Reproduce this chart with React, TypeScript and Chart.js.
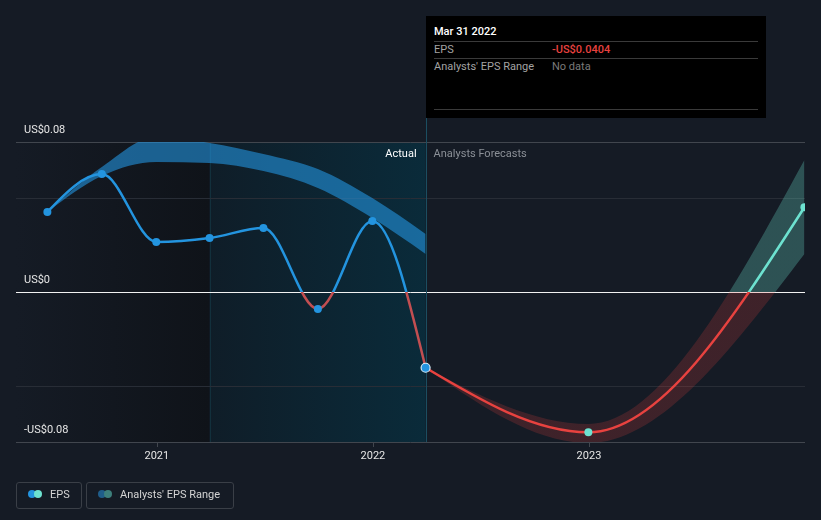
import React, { useEffect, useRef } from 'react';
import { Chart, registerables } from 'chart.js';

Chart.register(...registerables);

const FONT = 'Roboto, "Noto Sans", "DejaVu Sans", sans-serif';

// ---------- data ----------
const actualDates = ['2020-06-30', '2020-09-30', '2020-12-31', '2021-03-31', '2021-06-30', '2021-09-30', '2021-12-31', '2022-03-31'];
const actualEps = [0.0427, 0.0629, 0.0267, 0.0288, 0.0341, -0.009, 0.0379, -0.0404];
const pastRangeLow = [0.0427, 0.0619, 0.0693, 0.0688, 0.0645, 0.0555, 0.0395, 0.0203];
const pastRangeHigh = [0.0427, 0.0667, 0.0827, 0.0795, 0.0736, 0.0656, 0.0501, 0.0309];

const forecastDates = ['2022-03-31', '2022-12-31', '2023-12-31'];
const forecastEps = [-0.0404, -0.0748, 0.0452];
const forecastLow = [-0.0404, -0.0805, 0.0203];
const forecastHigh = [-0.0404, -0.0704, 0.0704];

const yGridValues = [-0.08, -0.05, 0, 0.05, 0.08];
const yLabelValues = [0.08, 0, -0.08];
const yLabelTexts = ['US$0.08', 'US$0', '-US$0.08'];
const xTickDates = ['2021-01-01', '2022-01-01', '2023-01-01'];
const xTickLabels = ['2021', '2022', '2023'];

const xRange = ['2020-05-08', '2024-01-01'];
const yRange = [-0.08, 0.08];
const highlightStart = '2021-03-31';
const lastActualDate = '2022-03-31';

const tooltipTitle = 'Mar 31 2022';
const tooltipEps = '-US$0.0404';
const tooltipRange = 'No data';

// ---------- helpers ----------
const toMs = (d: string) => {
  const [y, m, dd] = d.split('-').map(Number);
  return Date.UTC(y, m - 1, dd);
};
const pts = (dates: string[], vals: number[]) => dates.map((d, i) => ({ x: toMs(d), y: vals[i] }));

function zeroGradient(chart: any, above: string, below: string) {
  const { ctx, chartArea, scales } = chart;
  if (!chartArea || !scales || !scales.y) return above;
  const y0 = scales.y.getPixelForValue(0);
  const g = ctx.createLinearGradient(0, chartArea.top, 0, chartArea.bottom);
  const f = Math.min(1, Math.max(0, (y0 - chartArea.top) / (chartArea.bottom - chartArea.top)));
  g.addColorStop(0, above);
  g.addColorStop(f, above);
  g.addColorStop(f, below);
  g.addColorStop(1, below);
  return g;
}

// d3 curveMonotoneX-style tangents applied to Chart.js bezier control points
function applyMonotone(points: any[]) {
  const n = points.length;
  if (n < 2) return;
  const xs = points.map((p) => p.x);
  const ys = points.map((p) => p.y);
  const t = new Array(n).fill(0);
  if (n === 2) {
    const s = (ys[1] - ys[0]) / (xs[1] - xs[0]);
    t[0] = s;
    t[1] = s;
  } else {
    for (let i = 1; i < n - 1; i++) {
      const h0 = xs[i] - xs[i - 1];
      const h1 = xs[i + 1] - xs[i];
      const s0 = (ys[i] - ys[i - 1]) / h0;
      const s1 = (ys[i + 1] - ys[i]) / h1;
      const p = (s0 * h1 + s1 * h0) / (h0 + h1);
      t[i] = (Math.sign(s0) + Math.sign(s1)) * Math.min(Math.abs(s0), Math.abs(s1), 0.5 * Math.abs(p)) || 0;
    }
    t[0] = (3 * (ys[1] - ys[0]) / (xs[1] - xs[0]) - t[1]) / 2;
    t[n - 1] = (3 * (ys[n - 1] - ys[n - 2]) / (xs[n - 1] - xs[n - 2]) - t[n - 2]) / 2;
  }
  for (let i = 0; i < n - 1; i++) {
    const dx = (xs[i + 1] - xs[i]) / 3;
    points[i].cp2x = xs[i] + dx;
    points[i].cp2y = ys[i] + t[i] * dx;
    points[i + 1].cp1x = xs[i + 1] - dx;
    points[i + 1].cp1y = ys[i + 1] - t[i + 1] * dx;
  }
}

const monotonePlugin = {
  id: 'd3monotone',
  beforeDatasetsDraw(chart: any) {
    chart.getSortedVisibleDatasetMetas().forEach((meta: any) => {
      const line = meta.dataset;
      if (!line || !line.points || !line.points.length) return;
      line.updateControlPoints(chart.chartArea, 'x');
      applyMonotone(line.points);
    });
  },
};

const backdropPlugin = {
  id: 'backdrop',
  beforeDatasetsDraw(chart: any) {
    const { ctx, chartArea: a, scales } = chart;
    const xs = scales.x;
    const ys = scales.y;
    const hx = xs.getPixelForValue(toMs(highlightStart));
    const lx = xs.getPixelForValue(toMs(lastActualDate));
    ctx.save();
    // darker past region
    let g = ctx.createLinearGradient(a.left, 0, hx, 0);
    g.addColorStop(0, '#151b25');
    g.addColorStop(1, '#0f1319');
    ctx.fillStyle = g;
    ctx.fillRect(a.left, a.top, hx - a.left, a.bottom - a.top);
    // last-12-months highlight
    g = ctx.createLinearGradient(hx, 0, lx, 0);
    g.addColorStop(0, '#0f1d28');
    g.addColorStop(1, '#0a2b3a');
    ctx.fillStyle = g;
    ctx.fillRect(hx, a.top, lx - hx, a.bottom - a.top);
    ctx.fillStyle = '#12303c';
    ctx.fillRect(Math.round(hx), a.top, 1, a.bottom - a.top);

    // grid lines
    yGridValues.forEach((v) => {
      const y = Math.round(ys.getPixelForValue(v)) + 0.5;
      let c = '#282d36';
      if (v === 0) c = '#f2f2f2';
      else if (v === yRange[1] || v === yRange[0]) c = '#41464e';
      ctx.strokeStyle = c;
      ctx.lineWidth = 1;
      ctx.beginPath();
      ctx.moveTo(a.left, y);
      ctx.lineTo(a.right, y);
      ctx.stroke();
    });
    // x ticks
    ctx.strokeStyle = '#41464e';
    xTickDates.forEach((d) => {
      const x = Math.round(xs.getPixelForValue(toMs(d))) + 0.5;
      ctx.beginPath();
      ctx.moveTo(x, a.bottom);
      ctx.lineTo(x, a.bottom + 5);
      ctx.stroke();
    });
    // hover line at last actual
    ctx.fillStyle = '#1b4e61';
    ctx.fillRect(Math.round(lx), 117, 1, a.bottom - 117);
    ctx.restore();
  },
  afterDatasetsDraw(chart: any) {
    const { ctx, chartArea: a, scales } = chart;
    const xs = scales.x;
    const ys = scales.y;
    ctx.save();
    ctx.font = `11px ${FONT}`;
    ctx.textBaseline = 'middle';
    ctx.fillStyle = '#e6e6e6';
    ctx.textAlign = 'left';
    yLabelValues.forEach((v, i) => {
      ctx.fillText(yLabelTexts[i], a.left + 8, ys.getPixelForValue(v) - 12);
    });
    ctx.textAlign = 'center';
    xTickDates.forEach((d, i) => {
      ctx.fillText(xTickLabels[i], xs.getPixelForValue(toMs(d)), a.bottom + 14);
    });
    const lx = xs.getPixelForValue(toMs(lastActualDate));
    ctx.textAlign = 'right';
    ctx.fillStyle = '#ffffff';
    ctx.fillText('Actual', lx - 9, a.top + 12);
    ctx.textAlign = 'left';
    ctx.fillStyle = '#8b9097';
    ctx.fillText('Analysts Forecasts', lx + 8, a.top + 12);
    ctx.restore();
  },
};

export default function App() {
  const ref = useRef<HTMLCanvasElement | null>(null);

  useEffect(() => {
    if (!ref.current) return;
    const chart = new Chart(ref.current, {
      type: 'line',
      data: {
        datasets: [
          {
            label: 'EPS',
            data: pts(actualDates, actualEps),
            order: 1,
            borderWidth: 2.5,
            borderColor: (c: any) => zeroGradient(c.chart, '#2394df', '#c24e51'),
            cubicInterpolationMode: 'monotone',
            pointRadius: [4, 4, 4, 4, 4, 4, 4, 4.5],
            pointBackgroundColor: '#2394df',
            pointBorderColor: '#d6ebf8',
            pointBorderWidth: [0, 0, 0, 0, 0, 0, 0, 1.2],
            fill: false,
          },
          {
            label: 'EPS forecast',
            data: pts(forecastDates, forecastEps),
            order: 2,
            borderWidth: 2.5,
            borderColor: (c: any) => zeroGradient(c.chart, '#6de2d0', '#e8423f'),
            cubicInterpolationMode: 'monotone',
            pointRadius: [0, 4, 4],
            pointBackgroundColor: '#6de2d0',
            pointBorderWidth: 0,
            fill: false,
          },
          {
            label: 'past range low',
            data: pts(actualDates, pastRangeLow),
            order: 6,
            borderWidth: 0,
            pointRadius: 0,
            cubicInterpolationMode: 'monotone',
            fill: false,
          },
          {
            label: 'past range high',
            data: pts(actualDates, pastRangeHigh),
            order: 5,
            borderWidth: 0,
            pointRadius: 0,
            cubicInterpolationMode: 'monotone',
            backgroundColor: 'rgba(35,148,223,0.6)',
            fill: '-1',
          },
          {
            label: 'forecast range low',
            data: pts(forecastDates, forecastLow),
            order: 6,
            borderWidth: 0,
            pointRadius: 0,
            cubicInterpolationMode: 'monotone',
            fill: false,
          },
          {
            label: 'forecast range high',
            data: pts(forecastDates, forecastHigh),
            order: 5,
            borderWidth: 0,
            pointRadius: 0,
            cubicInterpolationMode: 'monotone',
            backgroundColor: (c: any) => zeroGradient(c.chart, 'rgba(109,226,208,0.28)', 'rgba(232,66,63,0.2)'),
            fill: '-1',
          },
        ],
      },
      options: {
        responsive: false,
        animation: false,
        devicePixelRatio: 1,
        layout: { padding: { left: 16, right: 16, top: 142, bottom: 78 } },
        scales: {
          x: { type: 'linear', min: toMs(xRange[0]), max: toMs(xRange[1]), display: false },
          y: { type: 'linear', min: yRange[0], max: yRange[1], display: false },
        },
        plugins: {
          legend: { display: false },
          tooltip: { enabled: false },
        },
        events: [],
      },
      plugins: [backdropPlugin, monotonePlugin],
    } as any);
    return () => chart.destroy();
  }, []);

  const txt: React.CSSProperties = {
    position: 'absolute',
    fontFamily: FONT,
    fontSize: 11,
    lineHeight: '13px',
    whiteSpace: 'nowrap',
  };
  const dot = (left: number, top: number, color: string): React.CSSProperties => ({
    position: 'absolute',
    left,
    top,
    width: 8,
    height: 8,
    borderRadius: '50%',
    background: color,
  });
  const sep = (top: number): React.CSSProperties => ({
    position: 'absolute',
    left: 8,
    top,
    width: 324,
    height: 1,
    background: '#3a3a3a',
  });

  return (
    <div
      style={{
        position: 'fixed',
        left: 0,
        top: 0,
        width: 821,
        height: 520,
        background: '#151b25',
        overflow: 'hidden',
      }}
    >
      <canvas ref={ref} width={821} height={520} style={{ display: 'block', width: 821, height: 520 }} />

      {/* tooltip */}
      <div style={{ position: 'absolute', left: 426, top: 16, width: 340, height: 102, background: '#000' }}>
        <div style={{ ...txt, left: 8, top: 8.5, color: '#ffffff', fontWeight: 500 }}>{tooltipTitle}</div>
        <div style={sep(25)} />
        <div style={{ ...txt, left: 8, top: 27, color: '#a3a3a3' }}>EPS</div>
        <div style={{ ...txt, left: 126, top: 27, color: '#e8423f', fontWeight: 500 }}>{tooltipEps}</div>
        <div style={sep(42)} />
        <div style={{ ...txt, left: 8, top: 43.5, color: '#a3a3a3' }}>Analysts' EPS Range</div>
        <div style={{ ...txt, left: 126, top: 43.5, color: '#7a7a7a' }}>{tooltipRange}</div>
        <div style={sep(93)} />
      </div>

      {/* legend */}
      <div
        style={{
          position: 'absolute',
          left: 16,
          top: 482,
          width: 64,
          height: 25,
          border: '1px solid #3a3f47',
          borderRadius: 3,
        }}
      />
      <div style={dot(27.5, 490, '#2394df')} />
      <div style={dot(33.5, 490, '#6de2d0')} />
      <div style={{ ...txt, left: 50, top: 487.5, color: '#d4d4d4' }}>EPS</div>

      <div
        style={{
          position: 'absolute',
          left: 86,
          top: 482,
          width: 146,
          height: 25,
          border: '1px solid #3a3f47',
          borderRadius: 3,
        }}
      />
      <div style={dot(97.5, 490, '#1f5d8a')} />
      <div style={dot(103.5, 490, '#3d7f7c')} />
      <div style={{ ...txt, left: 120, top: 487.5, color: '#d4d4d4' }}>Analysts' EPS Range</div>
    </div>
  );
}
